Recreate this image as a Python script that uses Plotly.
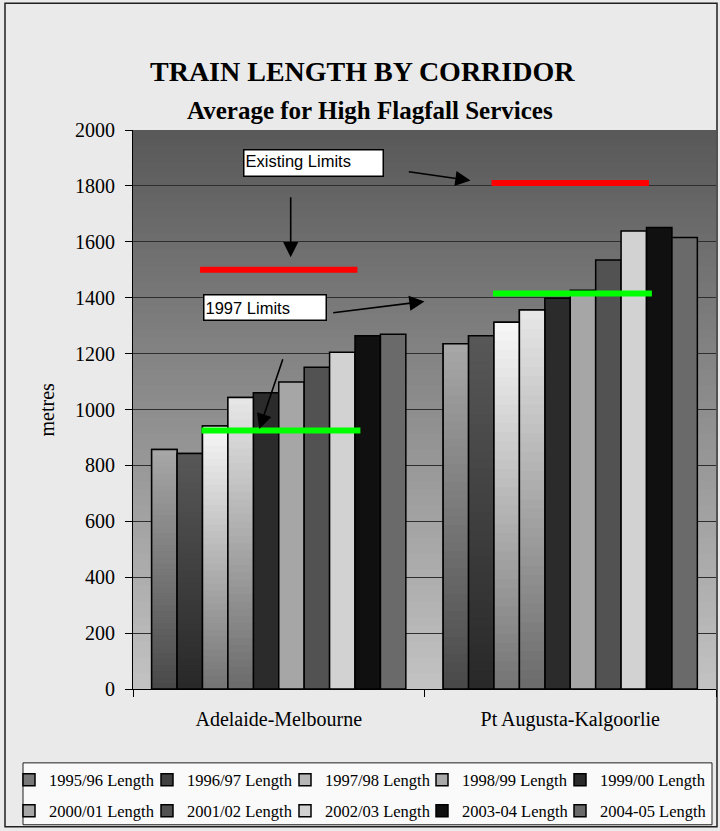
import plotly.graph_objects as go

# ---- data ---------------------------------------------------------------
corridors = ["Adelaide-Melbourne", "Pt Augusta-Kalgoorlie"]
series_names = [
    "1995/96 Length", "1996/97 Length", "1997/98 Length", "1998/99 Length",
    "1999/00 Length", "2000/01 Length", "2001/02 Length", "2002/03 Length",
    "2003-04 Length", "2004-05 Length",
]
len_1995_96 = [857, 1235]
len_1996_97 = [843, 1264]
len_1997_98 = [941, 1312]
len_1998_99 = [1043, 1356]
len_1999_00 = [1060, 1398]
len_2000_01 = [1098, 1427]
len_2001_02 = [1151, 1535]
len_2002_03 = [1205, 1639]
len_2003_04 = [1264, 1651]
len_2004_05 = [1269, 1615]
series_values = [
    len_1995_96, len_1996_97, len_1997_98, len_1998_99, len_1999_00,
    len_2000_01, len_2001_02, len_2002_03, len_2003_04, len_2004_05,
]
existing_limits = [1500, 1810]
limits_1997 = [925, 1415]
y_ticks = [0, 200, 400, 600, 800, 1000, 1200, 1400, 1600, 1800, 2000]

# ---- styling --------------------------------------------------------------
SERIF = "Liberation Serif, Times New Roman, serif"
SANS = "Liberation Sans, Arial, sans-serif"
W, H = 720, 831
L, R, T, B = 133, 716, 130, 690          # plot area in pixels
BARGAP = 0.128

# (top colour, bottom colour) for the shaded series, solid colour otherwise
bar_fill = [
    ("#a8a8a8", "#484848"), ("#585858", "#282828"), ("#f8f8f8", "#737373"),
    ("#e8e8e8", "#6a6a6a"), "#2b2b2b", "#a6a6a6", "#525252", "#d2d2d2",
    "#101010", "#6a6a6a",
]

# legend key layout: five keys per row, two rows
KEY_X = [9, 147, 285, 422, 560]
KEY_ROW_Y = [780, 811]


def px_x(p):
    return (p - L) / (R - L)


def px_y(p):
    return (B - p) / (B - T)


def hex_rgb(h):
    h = h.lstrip("#")
    return [int(h[i:i + 2], 16) for i in (0, 2, 4)]


def mix(c_top, c_bot, f):
    a, b = hex_rgb(c_top), hex_rgb(c_bot)
    v = [round(b[i] + (a[i] - b[i]) * f) for i in range(3)]
    return "rgb(%d,%d,%d)" % tuple(v)


fig = go.Figure()
shapes = []
legends = {}

# ---- bars -------------------------------------------------------------------
for i, (name, vals) in enumerate(zip(series_names, series_values)):
    fill = bar_fill[i]
    solid = mix(fill[0], fill[1], 0.5) if isinstance(fill, tuple) else fill
    lg = "legend" if i == 0 else "legend%d" % (i + 1)
    legends[lg] = dict(
        x=px_x(KEY_X[i % 5]), y=px_y(KEY_ROW_Y[i // 5]),
        orientation="h", xanchor="left", yanchor="middle",
        bgcolor="rgba(0,0,0,0)", borderwidth=0,
        font=dict(family=SERIF, size=16.5, color="black"),
        itemclick=False, itemdoubleclick=False,
    )
    fig.add_trace(go.Bar(
        x=corridors, y=vals, name=name,
        marker=dict(color=solid, line=dict(color="black", width=1.5)),
        legend=lg,
    ))

# vertical shading on the two-tone series, laid over their bars
n_series = len(series_names)
bw = (1 - BARGAP) / n_series
N_STRIPS = 40
for i, vals in enumerate(series_values):
    fill = bar_fill[i]
    if not isinstance(fill, tuple):
        continue
    for c, v in enumerate(vals):
        x0 = c - (1 - BARGAP) / 2 + i * bw
        x1 = x0 + bw
        for k in range(N_STRIPS):
            y0 = v * k / N_STRIPS
            y1 = min(v, v * (k + 1) / N_STRIPS + v * 0.004)
            shapes.append(dict(
                type="rect", xref="x", yref="y", x0=x0, x1=x1, y0=y0, y1=y1,
                fillcolor=mix(fill[0], fill[1], (k + 0.5) / N_STRIPS),
                line=dict(width=0), layer="above",
            ))
        shapes.append(dict(
            type="rect", xref="x", yref="y", x0=x0, x1=x1, y0=0, y1=v,
            fillcolor="rgba(0,0,0,0)", line=dict(color="black", width=1.5),
            layer="above",
        ))

# plot-area background: dark at the top fading to light at the bottom
N_BG = 70
for k in range(N_BG):
    f = (k + 0.5) / N_BG
    shapes.append(dict(
        type="rect", xref="paper", yref="paper", x0=0, x1=1,
        y0=k / N_BG, y1=min(1, (k + 1) / N_BG + 0.002),
        fillcolor=mix("#585858", "#c3c3c3", f), line=dict(width=0),
        layer="below",
    ))

# limit lines
for c, v in enumerate(existing_limits):
    shapes.append(dict(type="line", xref="x", yref="y", x0=c - 0.27, x1=c + 0.27,
                       y0=v, y1=v, line=dict(color="#ff0000", width=6),
                       layer="above"))
for c, v in enumerate(limits_1997):
    shapes.append(dict(type="line", xref="x", yref="y", x0=c - 0.265, x1=c + 0.28,
                       y0=v, y1=v, line=dict(color="#00ff00", width=6),
                       layer="above"))

# outer frame and legend box
shapes.append(dict(type="rect", xref="paper", yref="paper",
                   x0=px_x(5), x1=px_x(717), y0=px_y(828), y1=px_y(3),
                   line=dict(color="#202020", width=1.5),
                   fillcolor="rgba(0,0,0,0)", layer="below"))
shapes.append(dict(type="rect", xref="paper", yref="paper",
                   x0=px_x(23), x1=px_x(712), y0=px_y(826), y1=px_y(764),
                   line=dict(color="#202020", width=1), fillcolor="#fafafa",
                   layer="below"))

# ---- annotations --------------------------------------------------------------
ann = []
ann.append(dict(text="<b>TRAIN LENGTH BY CORRIDOR</b>", x=px_x(362), y=px_y(71),
                xref="paper", yref="paper", showarrow=False,
                font=dict(family=SERIF, size=28, color="black"),
                xanchor="center", yanchor="middle"))
ann.append(dict(text="<b>Average for High Flagfall Services</b>", x=px_x(370),
                y=px_y(110), xref="paper", yref="paper", showarrow=False,
                font=dict(family=SERIF, size=25, color="black"),
                xanchor="center", yanchor="middle"))
ann.append(dict(text="metres", x=px_x(46), y=px_y(410), xref="paper",
                yref="paper", showarrow=False, textangle=-90,
                font=dict(family=SERIF, size=20, color="black"),
                xanchor="center", yanchor="middle"))

# callout boxes
ann.append(dict(text="Existing Limits", x=px_x(243), y=px_y(149), xref="paper",
                yref="paper", showarrow=False, xanchor="left", yanchor="top",
                width=136, height=23, align="left", valign="top",
                bgcolor="white", bordercolor="black", borderwidth=1.5,
                borderpad=1, font=dict(family=SANS, size=16.5, color="black")))
ann.append(dict(text="1997 Limits", x=px_x(203), y=px_y(294), xref="paper",
                yref="paper", showarrow=False, xanchor="left", yanchor="top",
                width=119, height=22, align="left", valign="middle",
                bgcolor="white", bordercolor="black", borderwidth=1.5,
                borderpad=1, font=dict(family=SANS, size=16.5, color="black")))

# arrows: (tail, head) in pixels
arrows = [
    ((290.7, 196), (290.7, 257.5)),
    ((407.3, 171.7), (470.5, 180.7)),
    ((331.7, 313.3), (424.5, 301.7)),
    ((283.3, 358.3), (259.3, 429.5)),
]
for (tx, ty), (hx, hy) in arrows:
    ann.append(dict(text="", x=px_x(hx), y=px_y(hy), xref="paper", yref="paper",
                    ax=tx - hx, ay=ty - hy, axref="pixel", ayref="pixel",
                    showarrow=True, arrowhead=2, arrowsize=1.9, arrowwidth=1.6,
                    arrowcolor="black", standoff=0, startstandoff=0))

fig.update_layout(
    width=W, height=H,
    margin=dict(l=L, r=W - R, t=T, b=H - B, pad=0),
    paper_bgcolor="#eaeaea",
    plot_bgcolor="#8a8a8a",
    barmode="group", bargap=BARGAP, bargroupgap=0,
    showlegend=True,
    shapes=shapes,
    annotations=ann,
    xaxis=dict(
        type="category", tickson="boundaries", ticks="outside", ticklen=7,
        tickcolor="black", tickwidth=1, showline=True, linecolor="black",
        linewidth=1, showgrid=False, ticklabelstandoff=12,
        tickfont=dict(family=SERIF, size=20, color="black"),
        range=[-0.5, 1.5], fixedrange=True,
    ),
    yaxis=dict(
        range=[0, 2000], tickvals=y_ticks, ticks="outside", ticklen=7,
        tickcolor="black", tickwidth=1, showline=True, linecolor="black",
        linewidth=1, showgrid=True, gridcolor="#2e2e2e", gridwidth=1,
        zeroline=False, ticklabelstandoff=6,
        tickfont=dict(family=SERIF, size=20, color="black"),
        fixedrange=True,
    ),
    **legends,
)

fig.write_html("out.html")
